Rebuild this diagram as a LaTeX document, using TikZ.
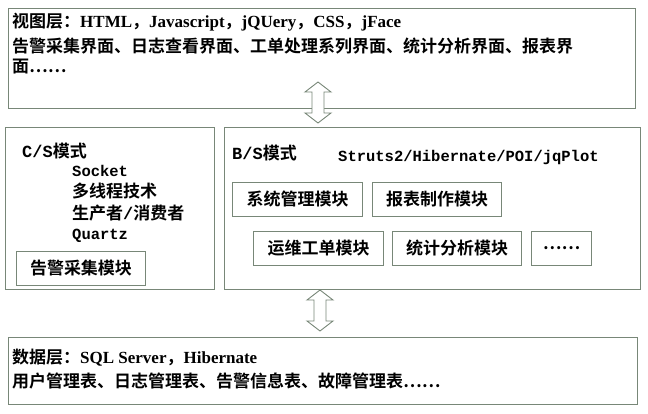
\documentclass[tikz,border=0pt]{standalone}
\usepackage{fontspec}
\setmainfont{Liberation Serif}[BoldFont=Liberation Serif Bold]
\newfontfamily\cjk{Noto Sans CJK SC Bold}
\newfontfamily\mono{Liberation Mono Bold}
\newfontfamily\lsb{Liberation Serif Bold}
\definecolor{edge}{RGB}{120,135,120}
\begin{document}
\begin{tikzpicture}[x=1pt,y=-1pt,
  box/.style={draw=edge,line width=1pt},
  lbl/.style={anchor=west,inner sep=0pt,font=\fontsize{17}{20}\selectfont\cjk},
  ml/.style={anchor=west,inner sep=0pt,font=\fontsize{15.5}{20}\selectfont\mono},
  mod/.style={draw=edge,line width=1pt,minimum height=34pt,inner sep=0pt,font=\fontsize{17}{20}\selectfont\cjk},
  dar/.style={draw=edge,line width=0.9pt,fill=white}]
\useasboundingbox (0,0) rectangle (648,414);
\node[box,minimum width=627pt,minimum height=100pt,inner sep=0pt,anchor=north west] (top) at (8,8) {};
\node[box,minimum width=209pt,minimum height=162pt,inner sep=0pt,anchor=north west] (cs) at (5,127) {};
\node[box,minimum width=416pt,minimum height=162pt,inner sep=0pt,anchor=north west] (bs) at (224,127) {};
\node[box,minimum width=629pt,minimum height=67pt,inner sep=0pt,anchor=north west] (db) at (8,337) {};
\draw[dar] (318,82) -- (331,92) -- (324,92) -- (324,113) -- (331,113) -- (318,123) -- (305,113) -- (312,113) -- (312,92) -- (305,92) -- cycle;
\draw[dar] (320,290) -- (333,300) -- (326,300) -- (326,321) -- (333,321) -- (320,331) -- (307,321) -- (314,321) -- (314,300) -- (307,300) -- cycle;
\node[lbl] (t1) at (12,22) {视图层：\lsb HTML\cjk ，\lsb Javascript\cjk ，\lsb jQUery\cjk ，\lsb CSS\cjk ，\lsb jFace};
\node[lbl] (t2) at (12,46) {告警采集界面、日志查看界面、工单处理系列界面、统计分析界面、报表界};
\node[lbl] (t3) at (12,67) {面……};
\node[lbl] (c1) at (22,151) {\mono C/S\cjk 模式};
\node[ml] (c2) at (72,171) {Socket};
\node[lbl] (c3) at (72,191) {多线程技术};
\node[lbl] (c4) at (72,213) {生产者\mono /\cjk 消费者};
\node[ml] (c5) at (72,236) {Quartz};
\node[mod,minimum width=129pt,anchor=north west] (gj) at (16,251) {告警采集模块};
\node[lbl] (b1) at (232,153) {\mono B/S\cjk 模式};
\node[ml] (b2) at (338,157) {Struts2/Hibernate/POI/jqPlot};
\node[mod,minimum width=130pt,anchor=north west] (m1) at (232,182) {系统管理模块};
\node[mod,minimum width=129pt,anchor=north west] (m2) at (372,182) {报表制作模块};
\node[mod,minimum width=130pt,anchor=north west] (m3) at (253,231) {运维工单模块};
\node[mod,minimum width=129pt,anchor=north west] (m4) at (392,231) {统计分析模块};
\node[mod,minimum width=60pt,anchor=north west] (m5) at (531,231) {……};
\node[lbl] (d1) at (12,358) {数据层：\lsb SQL Server\cjk ，\lsb Hibernate};
\node[lbl] (d2) at (12,381) {用户管理表、日志管理表、告警信息表、故障管理表……};
\end{tikzpicture}
\end{document}
